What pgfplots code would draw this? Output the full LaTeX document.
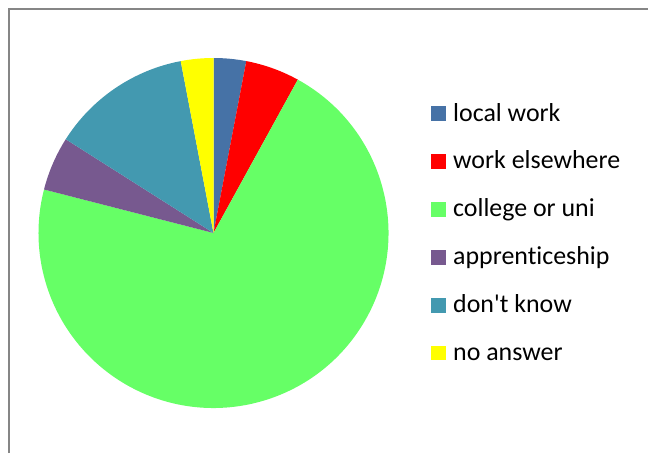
\documentclass[border=0pt]{standalone}
\usepackage{pgfplots}
\usepackage{pgfplotstable}
\usepackage{fontspec}
\setmainfont{Carlito}[Ligatures={TeXOff,NoCommon}]
\pgfplotsset{compat=1.18}

\definecolor{cLocal}{HTML}{4672A6}
\definecolor{cElse}{HTML}{FF0000}
\definecolor{cUni}{HTML}{66FF66}
\definecolor{cAppr}{HTML}{77598F}
\definecolor{cDont}{HTML}{4399B0}
\definecolor{cNone}{HTML}{FFFF00}
\definecolor{frameg}{HTML}{868686}

% share of answers (per cent)
\pgfplotstableread[col sep=comma]{
label,share,colour
local work,3,cLocal
work elsewhere,5,cElse
college or uni,71,cUni
apprenticeship,5,cAppr
don't know,13,cDont
no answer,3,cNone
}\answers

\newcommand\legendfont{\fontsize{26}{30}\selectfont}

\begin{document}
\begin{tikzpicture}
  \begin{axis}[
    scale only axis,
    width=649bp, height=453bp,
    xmin=0, xmax=649,
    ymin=0, ymax=453,
    y dir=reverse,
    hide axis,
    clip=false,
    ]
    \path (axis cs:0,0) rectangle (axis cs:649,453);
    \draw[frameg, line width=2bp] (axis cs:8.5,453) -- (axis cs:8.5,9.5) -- (axis cs:648,9.5);

    \pgfplotstablegetrowsof{\answers}
    \pgfmathtruncatemacro\lastrow{\pgfplotsretval-1}
    \def\cum{0}
    \pgfplotsforeachungrouped \i in {0,...,\lastrow}{
      \pgfplotstablegetelem{\i}{share}\of\answers \let\v\pgfplotsretval
      \pgfplotstablegetelem{\i}{colour}\of\answers \let\c\pgfplotsretval
      \pgfplotstablegetelem{\i}{label}\of\answers \let\l\pgfplotsretval
      \pgfmathsetmacro\a{90-3.6*\cum}
      \pgfmathsetmacro\b{90-3.6*(\cum+\v)}
      \pgfmathsetmacro\cum{\cum+\v}
      \pgfmathsetmacro\ty{113.7+47.9*\i}
      \edef\temp{
        \noexpand\fill[\c] (axis cs:213.5,233) -- ++(\a:175bp)
          arc[start angle=\a, end angle=\b, radius=175bp] -- cycle;
        \noexpand\fill[\c] (axis cs:431,\ty) ++(0,7.2bp) rectangle ++(14.5bp,-14.4bp);
        \noexpand\node[anchor=base west, inner sep=0pt, yshift=-7.3bp,
          font=\noexpand\legendfont] at (axis cs:453,\ty) {\l};
      }
      \temp
    }
  \end{axis}
\end{tikzpicture}
\end{document}
